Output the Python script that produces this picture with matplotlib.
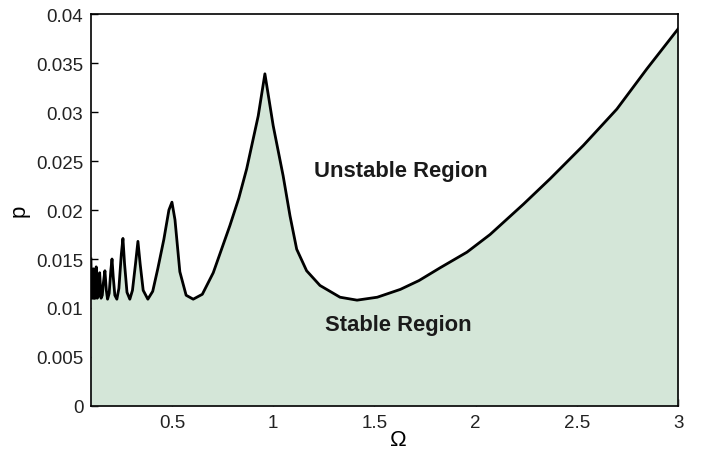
import matplotlib
matplotlib.use('Agg')
import matplotlib.pyplot as plt

# stability boundary p(Omega)
omega = [0.100, 0.103, 0.107, 0.110, 0.112, 0.116, 0.118, 0.121, 0.126, 0.131,
         0.137, 0.143, 0.150, 0.156, 0.161, 0.169, 0.176, 0.182, 0.190, 0.198,
         0.204, 0.210, 0.218, 0.228, 0.238, 0.250, 0.258, 0.266, 0.278, 0.292,
         0.305, 0.320, 0.332, 0.343, 0.358, 0.381, 0.405, 0.430, 0.460, 0.485,
         0.500, 0.515, 0.539, 0.570, 0.605, 0.650, 0.704, 0.745, 0.786, 0.830,
         0.869, 0.926, 0.959, 1.000, 1.049, 1.083, 1.116, 1.165, 1.231, 1.330,
         1.414, 1.514, 1.628, 1.720, 1.824, 1.957, 2.071, 2.236, 2.368, 2.532,
         2.697, 2.845, 3.000]
p_crit = [0.0150, 0.0110, 0.0130, 0.0110, 0.0140, 0.0110, 0.0128, 0.0110, 0.0142, 0.0110,
          0.0112, 0.0136, 0.0110, 0.0113, 0.0125, 0.0138, 0.0118, 0.0109, 0.0115, 0.0138,
          0.0150, 0.0132, 0.0113, 0.0109, 0.0120, 0.0155, 0.0171, 0.0145, 0.0116, 0.0109,
          0.0118, 0.0145, 0.0168, 0.0145, 0.0118, 0.0109, 0.0117, 0.0140, 0.0170, 0.0200,
          0.0208, 0.0190, 0.0137, 0.0113, 0.0109, 0.0114, 0.0136, 0.0160, 0.0184, 0.0212,
          0.0242, 0.0296, 0.0339, 0.0286, 0.0235, 0.0194, 0.0160, 0.0138, 0.0123, 0.0111,
          0.0108, 0.0111, 0.0119, 0.0128, 0.0141, 0.0157, 0.0175, 0.0206, 0.0232, 0.0266,
          0.0303, 0.0344, 0.0385]

xticks = [0.5, 1, 1.5, 2, 2.5, 3]
yticks = [0, 0.005, 0.01, 0.015, 0.02, 0.025, 0.03, 0.035, 0.04]
ytick_labels = ['0', '0.005', '0.01', '0.015', '0.02', '0.025', '0.03', '0.035', '0.04']

plt.rcParams['font.family'] = ['Liberation Sans', 'DejaVu Sans']

fig = plt.figure(figsize=(7.05, 4.56), dpi=100)
ax = fig.add_axes([0.129, 0.1075, 0.833, 0.8595])

ax.fill_between(omega, 0, p_crit, color='#d4e6d8', linewidth=0)
ax.plot(omega, p_crit, color='black', linewidth=2.0, solid_joinstyle='round')

ax.text(1.63, 0.024, 'Unstable Region', fontsize=15.8, fontweight='bold',
        ha='center', va='center', color='#1a1a1a')
ax.text(1.62, 0.0083, 'Stable Region', fontsize=15.8, fontweight='bold',
        ha='center', va='center', color='#1a1a1a')

ax.set_xlim(0.1, 3)
ax.set_ylim(0, 0.04)
ax.set_xticks(xticks)
ax.set_xticklabels([f'{t:g}' for t in xticks])
ax.set_yticks(yticks)
ax.set_yticklabels(ytick_labels)
ax.tick_params(direction='in', length=5, width=1, labelsize=13.5,
               labelcolor='#222222', top=False, right=False)
ax.tick_params(axis='x', pad=6)
ax.tick_params(axis='y', pad=5.5)
ax.set_axisbelow(True)
for s in ax.spines.values():
    s.set_linewidth(1.2)

ax.set_xlabel('Ω', fontsize=16)
ax.xaxis.set_label_coords(0.523, -0.058)
ax.set_ylabel('p', fontsize=16)
ax.yaxis.set_label_coords(-0.104, 0.5)

fig.savefig('out.png', dpi=100)
